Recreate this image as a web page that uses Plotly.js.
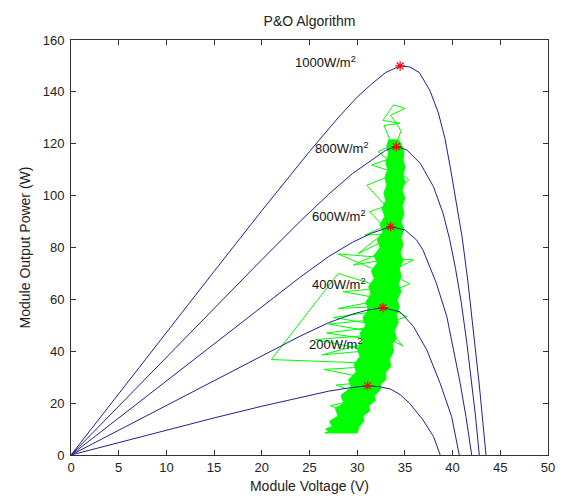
<!DOCTYPE html>
<html>
<head>
<meta charset="utf-8">
<script src="https://cdn.plot.ly/plotly-3.0.1.min.js"></script>
<style>html,body{margin:0;padding:0;background:#fff;}#chart{width:568px;height:502px;}</style>
</head>
<body>
<div id="chart"></div>
<script>
// P-V curves (voltage V, power W)
const v1000 = [0, 5, 10, 15, 20, 25, 28, 30, 31.5, 33, 34.5, 35.5, 36.5, 37.6, 38.5, 39.2, 39.8, 40.4, 41.0, 41.6, 42.2, 42.8, 43.5];
const p1000 = [0, 23.7, 47.3, 70.8, 94.2, 117, 130, 138, 143, 147.5, 150, 149.6, 147.5, 140.7, 132, 122, 110, 97, 84, 67, 48, 27, 0];
const v800 = [0, 5, 10, 15, 20, 24, 27, 29.5, 31.5, 33, 34.1, 35.2, 36.6, 38.0, 39.0, 39.7, 40.3, 40.9, 41.5, 42.0, 42.4, 42.8];
const p800 = [0, 18.9, 37.8, 56.6, 75.3, 90, 100.5, 108.5, 113.5, 117.5, 119, 117.6, 112.5, 103.4, 93.2, 83, 72, 59, 43, 28, 15, 0];
const v600 = [0, 5, 10, 15, 20, 24, 27, 29.5, 31.5, 33.5, 35.0, 36.2, 36.9, 38.3, 39.4, 40.1, 40.8, 41.4, 42.0];
const p600 = [0, 14.3, 28.6, 42.8, 57, 68.5, 76.5, 82, 85.5, 88, 86.8, 83, 79, 66.2, 53.3, 40.5, 27.6, 14.8, 0];
const v400 = [0, 5, 10, 15, 20, 24, 27, 29.5, 31, 32.7, 34.5, 35.9, 37.3, 38.7, 39.9, 40.7];
const p400 = [0, 9.6, 19.2, 28.8, 38.3, 45.8, 51, 54.3, 55.8, 56.8, 55.2, 49.5, 40.5, 27.6, 14.8, 0];
const v200 = [0, 5, 10, 15, 20, 24, 27, 29, 31.1, 32.4, 33.5, 34.5, 35.5, 36.9, 38.0, 38.7];
const p200 = [0, 4.8, 9.6, 14.3, 18.8, 22.2, 24.6, 25.8, 26.7, 26.3, 25.4, 23.3, 19.9, 13.5, 7.1, 0];

// maximum power points (red stars)
const mppV = [34.5, 34.1, 33.5, 32.7, 31.1];
const mppP = [150, 118.9, 88, 56.8, 26.7];

// curve labels
const labelText = ["1000W/m<sup>2</sup>", "800W/m<sup>2</sup>", "600W/m<sup>2</sup>", "400W/m<sup>2</sup>", "200W/m<sup>2</sup>"];
const labelV = [23.3, 25.4, 25.05, 25.05, 24.7];
const labelP = [151.5, 118.5, 92.1, 66.1, 42.8];

// dense region of the P&O operating-point trace (outline: right edge upward, then left edge downward)
const coreV = [30.0, 30.2, 30.7, 30.6, 31.3, 31.2, 31.9, 31.8, 32.4, 32.5, 33.0, 33.0, 33.5, 33.4, 33.8, 33.7, 34.1, 33.9, 34.3, 34.1, 34.4, 34.2, 34.6, 34.3, 34.6, 34.4, 34.8, 34.5, 34.8, 34.6, 34.9, 34.6, 34.9, 34.7, 35.0, 34.7, 35.0, 34.8, 35.0, 34.8, 34.9, 34.6, 34.3,
  33.3, 33.1, 33.3, 33.0, 33.2, 32.9, 33.1, 32.8, 33.0, 32.6, 32.9, 32.4, 32.7, 32.1, 32.4, 31.8, 32.1, 31.5, 31.8, 31.2, 31.5, 30.9, 31.2, 30.6, 30.9, 30.3, 30.6, 30.0, 30.3, 29.7, 29.9, 29.1, 29.4, 28.3, 28.6, 27.7, 28.0, 27.1, 27.4, 26.7, 27.0, 26.6, 30.0];
const coreP = [8.5, 11, 13, 15, 17, 19, 21, 23, 25, 27.5, 29, 32, 34, 37, 40, 43, 45, 48, 51, 54, 57, 60, 63, 66, 69, 72, 75, 78, 81, 84, 87, 90, 93, 96, 99, 102, 105, 108, 111, 114, 117, 120, 121.5,
  121.5, 119, 116, 113, 110, 107, 104, 101, 98, 95, 92, 89, 86, 83, 80, 77, 74, 71, 68, 65, 62, 59, 56, 53, 50, 47, 44, 41, 38, 35, 32, 29, 26, 23, 20, 18, 15, 13, 11, 10, 9, 8.5, 8.5];

// excursions of the P&O operating point outside the dense region
const traceV = [29.5, 27.2, 30.5, 30.0, 27.8, 31.0, 30.5, 26.5, 31.2, 30.6, 21.0, 28.0, 31.5, 30.5, 26.3, 30.8, 30.6, 26.8, 31.0, 30.4, 25.6, 30.8, 33.8, 34.8, 33.6, 30.8, 27.5, 31.2, 34.0, 35.2, 33.8, 31.0, 28.0, 31.5, 30.9, 27.0, 31.3, 31.4, 28.5, 31.8, 34.2, 35.5, 34.0, 31.5, 28.0, 35.9, 33.0, 32.4, 29.6, 32.4, 32.5, 30.1, 32.6, 30.8, 32.8, 31.3, 33.0, 31.0, 33.0, 34.8, 35.4, 34.8, 31.5, 33.2, 32.2, 33.4, 33.5, 32.8, 34.5, 32.7, 33.8, 35.0, 33.5, 34.6, 34.2];
const traceP = [16, 19, 22, 24, 27, 28, 30, 33, 34, 35.5, 36.8, 70, 66, 40, 38.6, 43, 45, 47, 49, 41, 44.5, 46, 44, 42, 47, 51, 53, 55, 52, 53.3, 56, 57, 56.5, 59, 48, 50.5, 52, 61, 63, 64, 64, 66, 69, 72, 77.5, 75.2, 70, 75, 73.2, 78, 82, 77.7, 85, 84.8, 88, 93.8, 96, 104, 107, 104, 106, 108, 111.8, 114, 117, 119, 121, 127, 127.9, 129, 135, 133.6, 131, 125, 121];

const curveColor = '#20208f';
const green = '#00ff00';

const traces = [
  {x: coreV, y: coreP, mode: 'lines', fill: 'toself', fillcolor: green, line: {color: green, width: 1}, hoverinfo: 'skip', showlegend: false},
  {x: traceV, y: traceP, mode: 'lines', line: {color: green, width: 1}, showlegend: false},
  {x: v1000, y: p1000, mode: 'lines', line: {color: curveColor, width: 1}, showlegend: false},
  {x: v800, y: p800, mode: 'lines', line: {color: curveColor, width: 1}, showlegend: false},
  {x: v600, y: p600, mode: 'lines', line: {color: curveColor, width: 1}, showlegend: false},
  {x: v400, y: p400, mode: 'lines', line: {color: curveColor, width: 1}, showlegend: false},
  {x: v200, y: p200, mode: 'lines', line: {color: curveColor, width: 1}, showlegend: false},
  {x: mppV, y: mppP, mode: 'markers', marker: {symbol: 'asterisk-open', size: 8, color: '#ff0000', line: {color: '#ff0000', width: 1.2}}, showlegend: false}
];

const annotations = labelText.map((t, i) => ({
  x: labelV[i], y: labelP[i], xref: 'x', yref: 'y', text: t, showarrow: false,
  xanchor: 'left', yanchor: 'middle', font: {family: 'Liberation Sans, Arial, sans-serif', size: 13, color: '#111'}
}));

const axisCommon = {
  showline: true, linecolor: '#333', linewidth: 1, mirror: 'allticks',
  ticks: 'inside', ticklen: 5, tickcolor: '#333', showgrid: false, zeroline: false,
  tickfont: {family: 'Liberation Sans, Arial, sans-serif', size: 13, color: '#222'}
};

const layout = {
  width: 568, height: 502,
  margin: {l: 71, r: 20, t: 40, b: 47},
  paper_bgcolor: '#fff', plot_bgcolor: '#fff',
  font: {family: 'Liberation Sans, Arial, sans-serif', size: 13, color: '#222'},
  title: {text: 'P&amp;O Algorithm', x: 0.5, xref: 'paper', y: 1 - 21 / 502, yref: 'container', yanchor: 'middle', font: {size: 14, color: '#222'}},
  xaxis: Object.assign({}, axisCommon, {range: [0, 50], dtick: 5, tick0: 0, title: {text: 'Module Voltage (V)', standoff: 7, font: {size: 14, color: '#222'}}}),
  yaxis: Object.assign({}, axisCommon, {range: [0, 160], dtick: 20, tick0: 0, ticklabelstandoff: 3, title: {text: 'Module Output Power (W)', standoff: 8, font: {size: 14, color: '#222'}}}),
  annotations: annotations
};

Plotly.newPlot('chart', traces, layout, {displayModeBar: false, staticPlot: true});
</script>
</body>
</html>
